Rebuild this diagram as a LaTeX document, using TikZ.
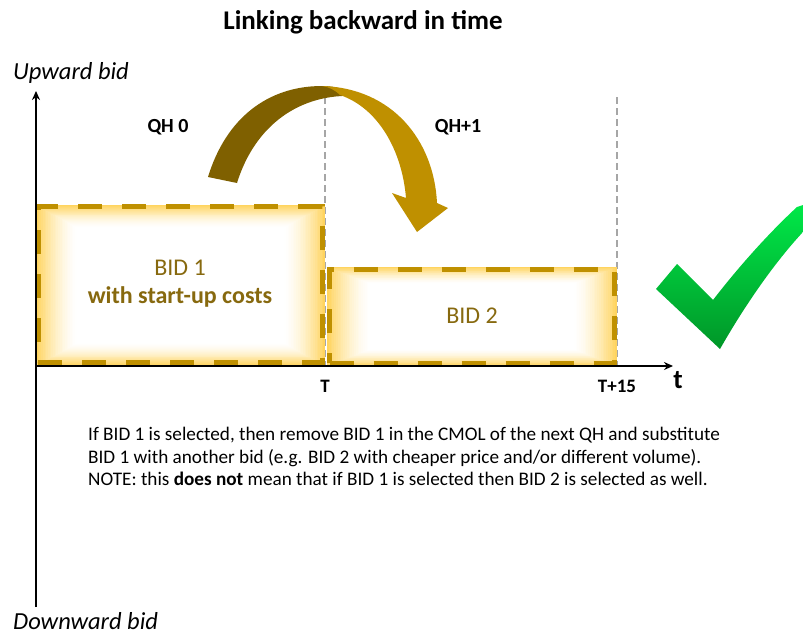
\documentclass[tikz,border=0pt]{standalone}
\usepackage{fontspec}
\setmainfont{Carlito}
\usetikzlibrary{arrows.meta}
\definecolor{gold}{RGB}{191,144,0}
\definecolor{darkgold}{RGB}{127,96,0}
\definecolor{bidtext}{RGB}{135,105,15}
\definecolor{glow}{RGB}{255,212,95}
\definecolor{guide}{RGB}{166,166,166}
\definecolor{ticklight}{RGB}{0,232,72}
\definecolor{tickdark}{RGB}{0,150,40}
\newcommand{\fsize}[2]{\fontsize{#1}{#2}\selectfont}
% glow fill: x1, y1, x2, y2, x step, y step
\newcommand{\glowbox}[6]{%
  \foreach \i in {0,...,24}{
    \pgfmathsetmacro{\mix}{100*(1-\i/24)^1.6}
    \fill[glow!\mix!white] (#1+\i*#5,#2+\i*#6) rectangle (#3-\i*#5,#4-\i*#6);
  }}

\begin{document}
\begin{tikzpicture}[x=1pt,y=-1pt,
  axis/.style={line width=1.8pt, -{Stealth[length=9pt,width=8pt]}},
  guideline/.style={guide, line width=1.6pt, dash pattern=on 7pt off 4pt},
  bidbox/.style={draw=gold, line width=5pt, dash pattern=on 24pt off 20pt, text=bidtext, align=center, font=\fsize{24}{28}},
  axislabel/.style={font=\fsize{24.5}{28}\itshape, inner sep=0pt},
  qhlabel/.style={font=\fsize{20}{24}\bfseries},
  ticklabel/.style={font=\fsize{19}{22}\bfseries}]
\useasboundingbox (0,0) rectangle (803,635);

\node[font=\fsize{27}{32}\bfseries] (title) at (363,22) {Linking backward in time};

% axes
\coordinate (origin) at (36,366);
\coordinate (ytop) at (36,91);
\coordinate (ybot) at (36,607);
\coordinate (xend) at (673,366);
\coordinate (Ttop) at (325,97);
\coordinate (Tbase) at (325,366);
\coordinate (Ftop) at (617,97);
\coordinate (Fbase) at (617,366);
\draw[guideline] (Ttop) -- (Tbase);
\draw[guideline] (Ftop) -- (Fbase);

% bids
\glowbox{36}{205}{325}{366}{1.7}{0.95}
\glowbox{327}{267}{617}{366}{1.8}{0.7}
\node[bidbox, minimum width=284pt, minimum height=156pt] (bid1) at (180,284)
  {BID 1\\\textbf{with start-up costs}};
\node[bidbox, minimum width=285pt, minimum height=94pt] (bid2) at (472,316) {BID 2};

\draw[axis] (ybot) -- (ytop);
\draw[axis] (origin) -- (xend);

\node[axislabel, anchor=west] (up) at (13,73) {Upward bid};
\node[axislabel, anchor=west] (down) at (13,621) {Downward bid};
\node[qhlabel] (qh0) at (168,127) {QH 0};
\node[qhlabel] (qh1) at (458,127) {QH+1};
\node[ticklabel] (T) at (325,386) {T};
\node[ticklabel] (T15) at (617,386) {T+15};
\node[font=\fsize{27}{32}\bfseries] (t) at (678,380) {t};

% curved arrow
\fill[darkgold] (208,177) .. controls (226,118) and (268,86) .. (322,86)
  .. controls (336,86) and (348,90) .. (356,96)
  .. controls (300,93) and (255,125) .. (237,183) -- cycle;
\fill[gold] (322,86) .. controls (392,88) and (434,140) .. (437,203)
  -- (448,208) -- (417,232) -- (392,193) -- (406,198)
  .. controls (402,150) and (378,108) .. (340,95)
  .. controls (335,90) and (329,87) .. (322,86) -- cycle;

% check mark
\shade[top color=ticklight, bottom color=tickdark]
  (656,289) -- (677,264) -- (713,300) .. controls (740,265) and (770,232) .. (797,207)
  -- (803,205) -- (803,232) .. controls (775,262) and (745,305) .. (720,349) -- cycle;

\node[anchor=north west, align=left, font=\fsize{19.2}{22.5}, inner sep=0pt] (note) at (88,427)
  {If BID 1 is selected, then remove BID 1 in the CMOL of the next QH and substitute\\
   BID 1 with another bid (e.g. BID 2 with cheaper price and/or different volume).\\
   NOTE: this \textbf{does not} mean that if BID 1 is selected then BID 2 is selected as well.};
\end{tikzpicture}
\end{document}
